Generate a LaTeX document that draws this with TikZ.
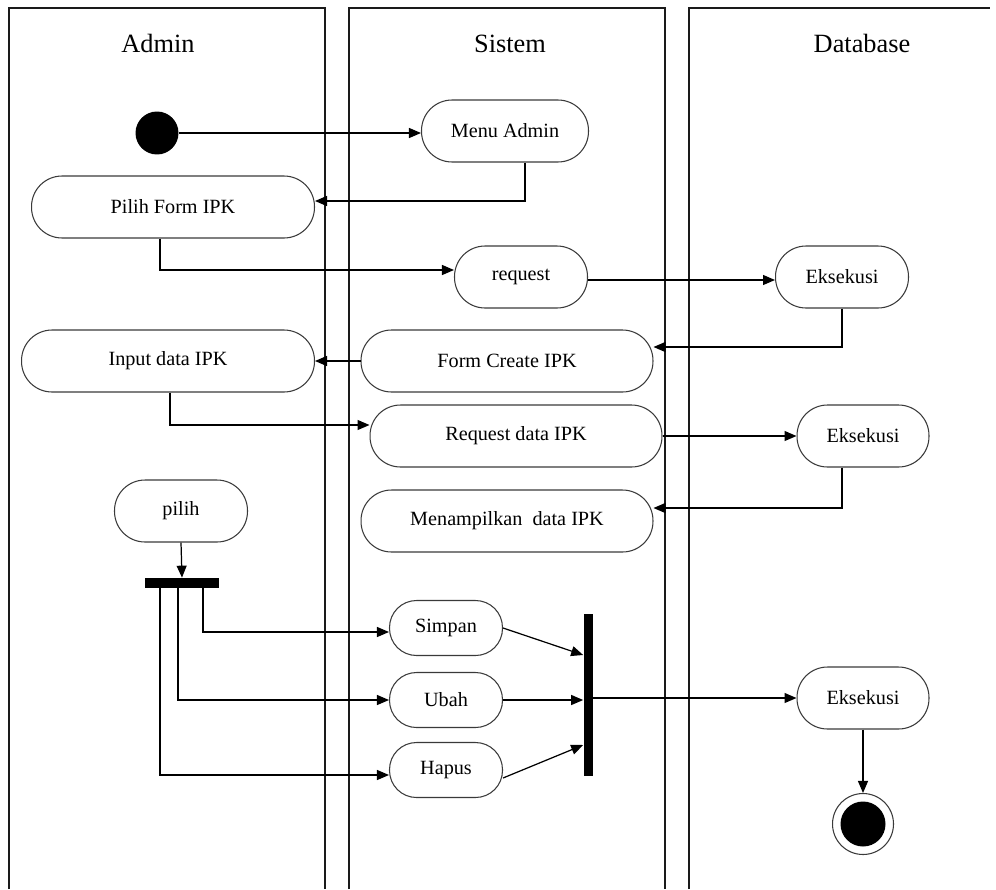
\documentclass[tikz,border=0pt]{standalone}
\usepackage{fontspec}
\setmainfont{Liberation Serif}
\usetikzlibrary{arrows.meta}
\definecolor{laneink}{HTML}{1A1A1A}
\definecolor{boxink}{HTML}{3A3A3A}

\begin{document}
\begin{tikzpicture}[
  x=0.02cm,
  y=-0.02cm,
  lane/.style={laneink, line width=0.6pt},
  lanetitle/.style={font=\fontsize{15}{18}\selectfont},
  act/.style={draw=boxink, line width=0.6pt, rounded corners=0.61cm, minimum height=1.24cm, inner sep=2pt, font=\fontsize{11.5}{13}\selectfont},
  smallact/.style={act, rounded corners=0.54cm, minimum height=1.1cm, minimum width=2.26cm},
  bar/.style={fill=black, inner sep=0pt},
  flow/.style={line width=0.7pt, -{Triangle[length=0.24cm, width=0.2cm]}}
]
  \useasboundingbox (0,0) rectangle (996,889);

  % swimlanes
  \draw[lane] (9,889) -- (9,8) -- (325,8) -- (325,889);
  \draw[lane] (349,889) -- (349,8) -- (665,8) -- (665,889);
  \draw[lane] (689,889) -- (689,8) -- (990,8);

  \node[lanetitle] (admintitle) at (158,43) {Admin};
  \node[lanetitle] (sistemtitle) at (510,44) {Sistem};
  \node[lanetitle] (dbtitle) at (862,43) {Database};

  % activities
  \node[circle, fill=black, minimum size=0.86cm, inner sep=0pt] (start) at (157,133) {};
  \node[act, minimum width=3.34cm] (menu) at (505,131) {Menu Admin};
  \node[act, minimum width=5.66cm] (pilihform) at (173,207) {Pilih Form IPK};
  \node[act, minimum width=2.66cm] (request) at (521,277) {request};
  \node[act, minimum width=2.66cm] (exec1) at (842,277) {Eksekusi};
  \node[act, minimum width=5.86cm] (input) at (168,361) {Input data IPK};
  \node[act, minimum width=5.84cm] (formcreate) at (507,361) {Form Create IPK};
  \node[act, minimum width=5.84cm] (reqdata) at (516,436) {Request data IPK};
  \node[act, minimum width=2.64cm] (exec2) at (863,436) {Eksekusi};
  \node[act, minimum width=2.66cm] (pilih) at (181,511) {pilih};
  \node[act, minimum width=5.84cm] (tampil) at (507,521) {Menampilkan\ \ data IPK};
  \node[smallact] (simpan) at (446,628) {Simpan};
  \node[smallact] (ubah) at (446,700) {Ubah};
  \node[smallact] (hapus) at (446,770) {Hapus};
  \node[act, minimum width=2.64cm] (exec3) at (863,698) {Eksekusi};

  \node[bar, minimum width=1.5cm, minimum height=0.2cm] (fork) at (182,583) {};
  \node[bar, minimum width=0.18cm, minimum height=3.26cm] (join) at (588,695) {};

  \node[circle, draw=boxink, line width=0.6pt, minimum size=1.22cm, inner sep=0pt] (end) at (863,824) {};
  \node[circle, fill=black, minimum size=0.9cm, inner sep=0pt] (endcore) at (end) {};

  % flows
  \draw[flow] (start.east) -- (start.east -| menu.west);
  \draw[flow] ([xshift=0.4cm]menu.south) |- ([yshift=0.12cm]pilihform.east);
  \draw[flow] ([xshift=-0.26cm]pilihform.south) |- ([yshift=0.14cm]request.west);
  \draw[flow] ([yshift=-0.06cm]request.east) -- ([yshift=-0.06cm]request.east -| exec1.west);
  \draw[flow] (exec1.south) |- ([yshift=0.28cm]formcreate.east);
  \draw[flow] (formcreate.west) -- (input.east);
  \draw[flow] ([xshift=0.04cm]input.south) |- ([yshift=0.22cm]reqdata.west);
  \draw[flow] (reqdata.east) -- (reqdata.east -| exec2.west);
  \draw[flow] ([xshift=-0.42cm]exec2.south) |- ([yshift=0.26cm]tampil.east);

  \draw[flow] (pilih.south) -- (fork.north);
  \draw[flow] ([xshift=0.42cm]fork.south) |- ([yshift=-0.08cm]simpan.west);
  \draw[flow] ([xshift=-0.08cm]fork.south) |- (ubah.west);
  \draw[flow] ([xshift=-0.44cm]fork.south) |- ([yshift=-0.1cm]hapus.west);

  \draw[flow] (simpan.east) -- ([yshift=0.8cm]join.west);
  \draw[flow] (ubah.east) -- (ubah.east -| join.west);
  \draw[flow] ([yshift=-0.16cm]hapus.east) -- ([yshift=-1cm]join.west);
  \draw[flow] (join.east |- exec3.west) -- (exec3.west);
  \draw[flow] (exec3.south) -- (end.north);
\end{tikzpicture}
\end{document}
